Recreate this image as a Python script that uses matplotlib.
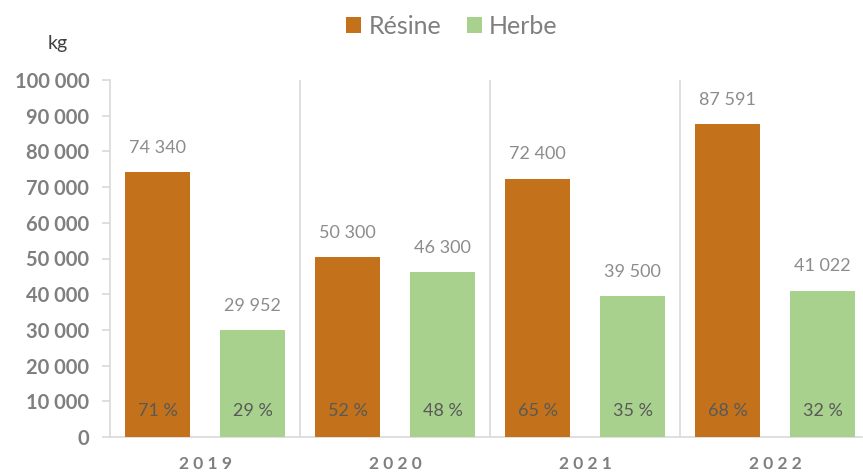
import matplotlib.pyplot as plt
import numpy as np

# Data
years = ['2019', '2020', '2021', '2022']
resine = [74340, 50300, 72400, 87591]
herbe = [29952, 46300, 39500, 41022]
resine_pct = ['71 %', '52 %', '65 %', '68 %']
herbe_pct = ['29 %', '48 %', '35 %', '32 %']

plt.rcParams['font.family'] = ['Lato', 'DejaVu Sans']

c_resine = '#C3721B'
c_herbe = '#A9D18E'
grid_c = '#D9D9D9'


def fmt_thousands(v):
    return f'{int(v):,}'.replace(',', ' ')


fig = plt.figure(figsize=(8.63, 4.73), dpi=100)
ax = fig.add_axes([110 / 863, 36 / 473, 752 / 863, 357 / 473])

x = np.arange(len(years))
offset = 0.25
width = 0.337

bars_r = ax.bar(x - offset, resine, width, color=c_resine, label='Résine', zorder=3)
bars_h = ax.bar(x + offset, herbe, width, color=c_herbe, label='Herbe', zorder=3)

# value labels and percentages
for bars, pcts in ((bars_r, resine_pct), (bars_h, herbe_pct)):
    for b, p in zip(bars, pcts):
        cx = b.get_x() + b.get_width() / 2
        ax.text(cx, b.get_height() + 4500, fmt_thousands(b.get_height()),
                ha='center', va='bottom', fontsize=13, color='#8C8C8C')
        ax.text(cx, 7200, p, ha='center', va='center', fontsize=13,
                color='#595959', zorder=4)

ax.set_xlim(-0.5, -0.5 + 752 / 190)
ax.set_ylim(0, 100000)
ax.set_yticks(np.arange(0, 100001, 10000))
ax.set_yticklabels([fmt_thousands(v) for v in np.arange(0, 100001, 10000)],
                   fontsize=14.5, fontweight='bold', color='#7F7F7F')

# category separators
for sep in x[:-1] + 0.5:
    ax.axvline(sep, color=grid_c, lw=1.2, zorder=1)

ax.set_xticks(x)
ax.set_xticklabels([' '.join(y) for y in years], fontsize=12.5,
                   fontweight='bold', color='#7F7F7F')
ax.tick_params(axis='x', length=0, pad=14)
ax.tick_params(axis='y', length=6, color=grid_c, width=1.2, pad=9)

for s in ['top', 'right']:
    ax.spines[s].set_visible(False)
ax.spines['left'].set_color(grid_c)
ax.spines['left'].set_linewidth(1.2)
ax.spines['bottom'].set_color(grid_c)
ax.spines['bottom'].set_linewidth(1.2)

fig.text(58 / 863, 1 - 43 / 473, 'kg', fontsize=14, color='#404040',
         ha='center', va='center')

leg = fig.legend(loc='center', bbox_to_anchor=(452 / 863, 1 - 26 / 473),
                 ncol=2, frameon=False, fontsize=18, handlelength=0.6,
                 handleheight=0.6, handletextpad=0.3, columnspacing=1.0)
for t in leg.get_texts():
    t.set_color('#7F7F7F')

fig.savefig('out.png', dpi=100)
